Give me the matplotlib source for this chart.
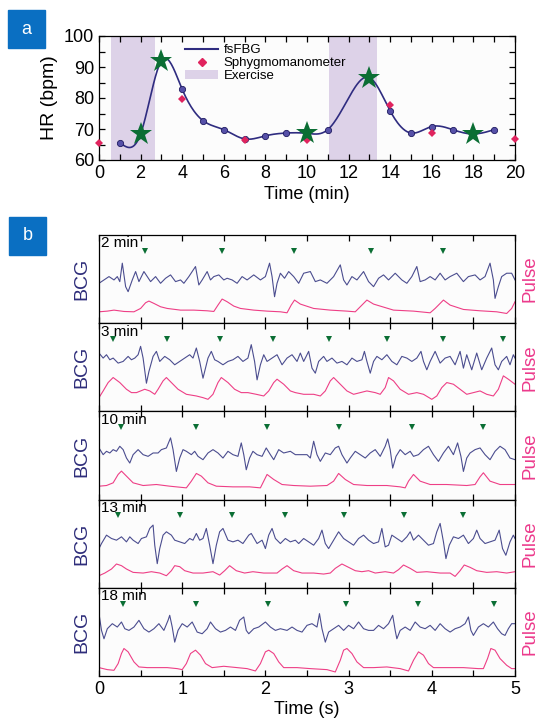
import matplotlib
matplotlib.use("Agg")
import matplotlib.pyplot as plt
import matplotlib.transforms as mtransforms
from matplotlib.lines import Line2D
from matplotlib.patches import Patch, Rectangle
from matplotlib.ticker import MultipleLocator
import numpy as np

plt.rcParams['font.family'] = ['Liberation Sans', 'DejaVu Sans']

# ---------------- panel a data ----------------
fsfbg_t = [1, 2, 3, 4, 5, 6, 7, 8, 9, 10, 11, 12, 13, 14, 15, 16, 17, 18, 19]
fsfbg_hr = [65.6, 68.4, 92.0, 82.8, 72.7, 69.8, 66.8, 67.8, 68.7, 68.6, 69.8, 80.0,
            86.6, 75.8, 68.7, 70.8, 69.8, 68.4, 69.8]
dot_t = [1, 4, 5, 6, 7, 8, 9, 11, 14, 15, 16, 17, 19]
star_t = [2, 3, 10, 13, 18]
sphyg_t = [0, 4, 7, 10, 14, 16, 20]
sphyg_hr = [65.5, 79.8, 66.6, 66.6, 77.8, 68.7, 66.7]
exercise = [(0.58, 2.69), (11.06, 13.35)]

# ---------------- panel b data ----------------
panel_names = ['2 min', '3 min', '10 min', '13 min', '18 min']

beats = [
    [0.55, 1.48, 2.34, 3.27, 4.13],
    [0.17, 0.82, 1.46, 2.09, 2.76, 3.46, 4.13, 4.86],
    [0.27, 1.16, 2.02, 2.88, 3.76, 4.62],
    [0.23, 0.97, 1.60, 2.24, 2.94, 3.67, 4.37],
    [0.29, 1.16, 2.03, 2.97, 3.84, 4.75],
]

bcg1_t = [0.00, 0.06, 0.12, 0.18, 0.22, 0.25, 0.28, 0.32, 0.35, 0.40, 0.44, 0.48, 0.54, 0.58,
          0.62, 0.68, 0.74, 0.80, 0.86, 0.92, 0.98, 1.02, 1.08, 1.16, 1.20, 1.24, 1.30, 1.34,
          1.38, 1.44, 1.50, 1.54, 1.60, 1.66, 1.72, 1.78, 1.86, 1.94, 2.00, 2.05, 2.08, 2.11,
          2.14, 2.18, 2.23, 2.28, 2.34, 2.40, 2.46, 2.54, 2.60, 2.66, 2.74, 2.82, 2.90, 2.94,
          2.98, 3.04, 3.10, 3.18, 3.24, 3.30, 3.36, 3.42, 3.48, 3.56, 3.64, 3.70, 3.76, 3.82,
          3.86, 3.92, 3.98, 4.04, 4.10, 4.16, 4.22, 4.30, 4.38, 4.44, 4.52, 4.58, 4.64, 4.70,
          4.74, 4.76, 4.80, 4.84, 4.90, 4.96, 5.00]
bcg1_v = [-1.0, 0.0, 1.0, 0.0, 1.0, -0.5, 5.0, -2.0, -3.5, 0.0, 2.5, -0.5, 2.5, 1.0,
          -0.5, 1.0, -1.0, 0.5, 1.5, -0.5, 0.0, -1.0, 1.0, 4.0, -1.5, 0.0, 2.5, 0.0,
          1.0, 1.5, 0.0, 0.5, 0.0, -1.0, 1.0, 0.0, 1.5, 0.0, 1.0, 5.0, 1.0, -5.0,
          -1.0, 2.0, 0.5, 2.5, 1.0, -1.0, 2.0, 2.5, -0.5, 0.0, -1.0, 1.0, 4.5, 0.0,
          -1.5, 1.0, 0.0, 2.5, -0.5, -2.0, 0.5, 1.5, 0.0, 2.0, 0.0, -1.0, 1.0, 4.0,
          -0.5, 0.0, 1.0, 0.0, 2.0, 0.0, 1.0, 2.0, -0.5, 1.0, 1.5, 0.0, 1.0, 5.0,
          0.0, -5.5, -2.0, 1.0, 2.0, 2.0, 0.0]
pul1_t = [0.00, 0.10, 0.18, 0.30, 0.42, 0.50, 0.56, 0.60, 0.66, 0.74, 0.82, 0.98, 1.14, 1.30,
          1.38, 1.43, 1.48, 1.54, 1.62, 1.70, 1.86, 2.02, 2.18, 2.26, 2.31, 2.35, 2.42, 2.58,
          2.78, 2.98, 3.08, 3.16, 3.22, 3.30, 3.54, 3.78, 3.98, 4.04, 4.14, 4.22, 4.38, 4.58,
          4.78, 4.90, 4.96, 5.00]
pul1_v = [0.5, 0.7, 1.0, 0.6, 0.5, 1.5, 3.2, 3.7, 3.0, 2.0, 1.5, 1.0, 1.0, 0.8,
          0.6, 2.5, 4.3, 3.5, 2.2, 1.5, 1.0, 0.7, 0.5, 0.2, 2.5, 4.0, 2.8, 1.5,
          1.0, 0.7, 0.5, 2.5, 4.0, 2.8, 1.0, 0.7, 0.2, 1.5, 4.0, 2.5, 1.2, 0.8,
          0.5, 0.0, 1.5, 3.5]

bcg2_t = [0.00, 0.05, 0.09, 0.13, 0.17, 0.23, 0.29, 0.35, 0.39, 0.43, 0.47, 0.50, 0.53, 0.57,
          0.60, 0.65, 0.69, 0.73, 0.79, 0.85, 0.91, 0.97, 1.03, 1.09, 1.13, 1.17, 1.21, 1.25,
          1.29, 1.31, 1.35, 1.39, 1.43, 1.49, 1.55, 1.61, 1.67, 1.73, 1.79, 1.83, 1.87, 1.90,
          1.94, 1.98, 2.02, 2.08, 2.14, 2.20, 2.26, 2.32, 2.38, 2.42, 2.46, 2.52, 2.56, 2.60,
          2.64, 2.70, 2.74, 2.80, 2.86, 2.92, 2.98, 3.04, 3.10, 3.16, 3.19, 3.22, 3.26, 3.30,
          3.34, 3.40, 3.46, 3.52, 3.58, 3.64, 3.70, 3.76, 3.82, 3.87, 3.90, 3.94, 3.98, 4.04,
          4.10, 4.16, 4.22, 4.28, 4.34, 4.38, 4.42, 4.48, 4.54, 4.60, 4.66, 4.72, 4.76, 4.80,
          4.84, 4.90, 4.94, 4.98, 5.00]
bcg2_v = [4.5, 3.0, 4.0, 2.5, 3.0, 1.5, 2.0, 3.5, 2.5, 3.0, 4.0, 6.5, 3.0, -4.5,
          -1.0, 3.5, 5.0, 2.0, 3.5, 2.5, 1.0, 2.0, 3.0, 4.0, 3.0, 6.0, 2.0, -3.0,
          1.0, 3.0, 5.0, 2.5, 2.0, 1.0, 2.0, 2.5, 3.5, 2.0, 3.0, 7.0, 2.0, -3.5,
          1.0, 4.0, 2.0, 3.0, 4.0, 1.0, 3.0, 4.0, 2.0, 4.5, 2.0, 5.0, 0.0, -1.5,
          2.0, 3.5, 2.0, 3.0, 1.5, 2.0, 1.0, 3.0, 2.0, 2.5, 5.0, 2.0, -1.5, 2.0,
          3.5, 2.5, 4.0, 2.0, 1.0, 3.5, 3.0, 2.0, 3.0, 5.0, 2.0, -0.5, 2.0, 5.0,
          1.5, 3.0, 3.5, 1.0, 5.0, 0.0, 4.0, -0.5, 4.5, -0.5, 3.0, 6.0, 1.0, -0.5,
          2.0, 3.5, 1.0, 4.0, 3.0]
pul2_t = [0.00, 0.05, 0.11, 0.17, 0.25, 0.33, 0.39, 0.45, 0.55, 0.61, 0.67, 0.71, 0.77, 0.81,
          0.87, 0.95, 1.05, 1.17, 1.25, 1.31, 1.37, 1.43, 1.47, 1.55, 1.63, 1.71, 1.79, 1.89,
          1.98, 2.04, 2.10, 2.14, 2.22, 2.30, 2.36, 2.46, 2.58, 2.66, 2.72, 2.78, 2.82, 2.90,
          2.98, 3.06, 3.14, 3.22, 3.32, 3.38, 3.44, 3.48, 3.54, 3.62, 3.72, 3.82, 3.90, 4.00,
          4.06, 4.12, 4.18, 4.26, 4.34, 4.42, 4.50, 4.58, 4.66, 4.74, 4.80, 4.86, 4.92, 5.00]
pul2_v = [1.2, 3.2, 5.7, 7.2, 5.7, 3.7, 2.7, 2.7, 3.7, 3.2, 2.2, 3.7, 6.2, 7.2,
          5.7, 3.7, 2.2, 1.7, 1.2, 0.7, 2.2, 5.7, 7.2, 5.7, 3.7, 2.7, 2.7, 2.2,
          1.7, 3.2, 5.7, 6.7, 5.2, 3.2, 2.7, 2.2, 2.2, 1.7, 3.2, 6.2, 7.2, 5.2,
          3.2, 2.2, 2.7, 3.2, 2.7, 2.2, 4.2, 7.2, 6.2, 3.7, 2.2, 2.7, 2.2, 0.7,
          1.7, 4.2, 5.7, 5.2, 3.7, 2.2, 2.7, 3.2, 2.2, 1.7, 3.7, 7.7, 6.7, 5.2]

bcg3_t = [0.00, 0.05, 0.09, 0.13, 0.17, 0.21, 0.25, 0.29, 0.33, 0.37, 0.41, 0.47, 0.53, 0.59,
          0.65, 0.71, 0.75, 0.81, 0.86, 0.89, 0.93, 0.97, 1.01, 1.05, 1.11, 1.15, 1.19, 1.25,
          1.31, 1.37, 1.43, 1.49, 1.55, 1.61, 1.67, 1.71, 1.74, 1.77, 1.81, 1.85, 1.90, 1.96,
          2.01, 2.06, 2.10, 2.16, 2.22, 2.30, 2.36, 2.42, 2.50, 2.54, 2.58, 2.62, 2.66, 2.72,
          2.78, 2.84, 2.88, 2.92, 2.98, 3.02, 3.08, 3.14, 3.20, 3.26, 3.32, 3.38, 3.44, 3.47,
          3.50, 3.53, 3.57, 3.62, 3.68, 3.74, 3.78, 3.84, 3.90, 3.96, 4.02, 4.08, 4.14, 4.20,
          4.26, 4.31, 4.35, 4.38, 4.42, 4.46, 4.52, 4.58, 4.64, 4.70, 4.76, 4.82, 4.88, 4.94,
          5.00]
bcg3_v = [2.5, 0.5, 1.5, 1.0, 2.0, 1.5, 3.0, 2.0, -0.5, -2.0, 0.5, 2.0, 0.5, 0.0,
          1.0, 1.0, 2.0, 2.5, 5.5, 2.0, -4.5, -0.5, 2.0, 1.5, 0.5, 1.5, 0.0, -1.0,
          1.0, 2.0, 1.0, -0.5, 1.5, 0.5, 0.0, 4.0, 0.5, -4.0, -0.5, 1.5, 0.5, 0.0,
          2.5, 0.5, -1.0, 2.0, 1.0, 1.5, 0.5, 0.5, 0.5, -0.5, 4.5, 0.5, -1.5, 1.0,
          0.5, 2.5, 3.0, 0.5, -2.0, -0.5, 1.5, 0.5, -0.5, 1.0, 2.0, 0.0, 3.0, 5.2,
          2.0, -3.5, 0.0, 2.0, 0.5, 1.5, 0.0, 0.5, 2.0, 3.0, 0.5, -1.5, 1.0, 3.0,
          0.5, 4.0, 0.0, -4.5, -0.5, 1.0, 2.0, 2.5, 0.5, -1.0, 1.5, 3.0, 2.0, -0.5,
          -1.0]
pul3_t = [0.00, 0.09, 0.17, 0.23, 0.27, 0.33, 0.41, 0.53, 0.69, 0.85, 1.05, 1.11, 1.17, 1.23,
          1.31, 1.41, 1.61, 1.81, 1.94, 1.98, 2.02, 2.10, 2.20, 2.34, 2.54, 2.74, 2.82, 2.88,
          2.96, 3.06, 3.22, 3.46, 3.62, 3.68, 3.72, 3.78, 3.86, 3.98, 4.18, 4.42, 4.52, 4.58,
          4.62, 4.70, 4.82, 5.00]
pul3_v = [1.1, 1.3, 2.1, 4.6, 5.6, 4.1, 2.1, 1.3, 1.6, 1.1, 0.6, 2.6, 4.9, 4.1,
          2.1, 1.1, 0.9, 0.9, 0.6, 2.6, 4.6, 3.1, 1.6, 1.3, 1.1, 1.3, 2.6, 4.9,
          3.1, 1.6, 1.3, 1.3, 0.9, 0.6, 2.6, 4.6, 2.6, 1.6, 1.6, 1.3, 1.6, 3.9,
          5.1, 2.6, 1.6, 1.6]

bcg4_t = [0.00, 0.03, 0.09, 0.15, 0.21, 0.27, 0.33, 0.37, 0.41, 0.47, 0.51, 0.57, 0.61, 0.65,
          0.67, 0.70, 0.73, 0.77, 0.81, 0.87, 0.91, 0.97, 1.03, 1.09, 1.13, 1.17, 1.21, 1.25,
          1.29, 1.33, 1.37, 1.41, 1.45, 1.49, 1.55, 1.61, 1.67, 1.73, 1.80, 1.83, 1.90, 1.96,
          2.00, 2.04, 2.08, 2.12, 2.18, 2.24, 2.30, 2.36, 2.40, 2.46, 2.52, 2.58, 2.64, 2.68,
          2.72, 2.76, 2.82, 2.88, 2.94, 3.00, 3.06, 3.12, 3.18, 3.24, 3.30, 3.36, 3.40, 3.44,
          3.48, 3.52, 3.58, 3.64, 3.70, 3.74, 3.78, 3.84, 3.90, 3.96, 4.02, 4.06, 4.10, 4.14,
          4.17, 4.21, 4.26, 4.32, 4.38, 4.44, 4.50, 4.54, 4.58, 4.64, 4.70, 4.76, 4.81, 4.85,
          4.89, 4.94, 4.98, 5.00]
bcg4_v = [-1.2, 0.3, 2.8, 1.8, 1.3, 2.3, 0.8, 2.3, 1.3, 0.3, 1.8, 2.3, 4.8, 5.8,
          -0.2, -5.7, -1.2, 2.8, 3.8, 2.8, 1.3, 0.8, 0.3, 1.8, 1.3, 3.3, 1.3, 1.8,
          4.8, -0.2, -5.7, -0.2, 3.8, 4.8, 1.3, 0.8, 1.3, 0.3, 2.8, 3.3, 0.3, 1.3,
          -1.2, 2.8, 4.8, 1.8, 0.3, 1.8, 0.8, 1.3, 0.3, 1.8, 0.8, -0.2, 1.8, 4.3,
          0.3, -1.2, 1.3, 3.8, 1.8, 0.8, -0.2, 1.8, 2.8, 1.3, 0.3, 0.8, 4.8, -0.7,
          -0.2, 2.8, 1.8, 0.8, 2.3, 3.8, 1.3, 2.8, 1.3, -0.2, 0.3, 3.8, 6.3, 0.8,
          -4.2, -0.2, 2.3, 1.8, 2.8, 0.3, 1.8, 4.3, 1.8, 0.3, 0.8, 1.3, 4.3, -1.2,
          -3.2, 0.8, 2.8, 1.8]
pul4_t = [0.00, 0.07, 0.15, 0.21, 0.27, 0.33, 0.41, 0.53, 0.63, 0.73, 0.81, 0.87, 0.91, 0.97,
          1.03, 1.13, 1.25, 1.37, 1.45, 1.51, 1.57, 1.65, 1.75, 1.85, 1.98, 2.14, 2.20, 2.26,
          2.34, 2.44, 2.58, 2.70, 2.78, 2.84, 2.92, 3.00, 3.08, 3.16, 3.24, 3.32, 3.44, 3.54,
          3.60, 3.66, 3.74, 3.82, 3.94, 4.10, 4.22, 4.28, 4.34, 4.39, 4.46, 4.54, 4.66, 4.78,
          4.90, 5.00]
pul4_v = [0.7, 1.5, 2.7, 4.2, 3.7, 2.7, 1.7, 1.5, 1.9, 1.5, 0.7, 2.2, 3.7, 3.4,
          2.2, 1.5, 1.5, 1.9, 0.9, 2.2, 3.7, 2.2, 1.5, 1.9, 1.5, 1.5, 2.7, 3.7,
          2.2, 1.5, 1.5, 1.2, 1.5, 2.9, 4.2, 3.2, 2.2, 1.9, 2.2, 1.5, 1.9, 1.5,
          2.5, 3.9, 2.9, 1.7, 1.9, 1.5, 1.5, 0.5, 2.2, 3.9, 3.2, 2.2, 1.7, 1.9,
          1.5, 1.9]

bcg5_t = [0.00, 0.03, 0.06, 0.10, 0.16, 0.22, 0.27, 0.31, 0.36, 0.42, 0.48, 0.54, 0.60, 0.66,
          0.72, 0.78, 0.83, 0.85, 0.88, 0.91, 0.95, 1.00, 1.06, 1.12, 1.18, 1.24, 1.30, 1.34,
          1.40, 1.46, 1.52, 1.58, 1.64, 1.69, 1.74, 1.77, 1.80, 1.86, 1.92, 2.00, 2.06, 2.12,
          2.18, 2.26, 2.32, 2.38, 2.44, 2.50, 2.56, 2.62, 2.65, 2.68, 2.72, 2.76, 2.82, 2.88,
          2.94, 3.00, 3.06, 3.12, 3.18, 3.24, 3.30, 3.36, 3.42, 3.48, 3.53, 3.56, 3.58, 3.62,
          3.68, 3.74, 3.80, 3.86, 3.92, 3.98, 4.04, 4.10, 4.16, 4.22, 4.28, 4.34, 4.40, 4.44,
          4.47, 4.50, 4.56, 4.62, 4.68, 4.74, 4.79, 4.84, 4.88, 4.92, 4.96, 5.00]
bcg5_v = [5.7, 0.7, -1.8, 1.2, 2.7, 1.7, 3.2, 1.2, 0.7, 1.7, 3.7, 1.2, 0.2, 1.2,
          2.7, 0.7, 3.7, 5.2, 1.7, -2.8, 0.7, 2.7, 1.7, 3.2, 0.2, -0.3, 1.2, 3.2,
          1.2, 0.2, 0.7, 1.7, 0.7, 3.7, 4.7, 0.7, -0.3, 1.2, 1.7, 3.2, 1.7, 0.7,
          1.2, 0.7, 1.7, 0.7, 0.2, 2.2, 2.7, 1.7, 5.7, 1.2, -2.8, 0.2, 1.2, 2.2,
          0.7, 2.2, 1.2, 3.2, 1.2, 0.7, 0.7, 2.2, 1.2, 2.7, 5.2, 0.7, -1.8, 0.7,
          1.7, 0.7, 3.2, 1.7, 1.2, 2.2, 0.7, 2.7, 1.2, 0.2, 1.2, 1.7, 2.7, 4.7,
          0.7, -0.8, 1.7, 2.7, 1.7, 3.2, 1.2, -0.3, -0.8, 1.2, 2.7, 2.7]
pul5_t = [0.00, 0.10, 0.18, 0.23, 0.27, 0.30, 0.35, 0.42, 0.48, 0.58, 0.70, 0.82, 0.94, 1.00,
          1.05, 1.10, 1.16, 1.22, 1.28, 1.36, 1.50, 1.66, 1.78, 1.88, 1.94, 2.00, 2.04, 2.10,
          2.16, 2.22, 2.38, 2.54, 2.74, 2.84, 2.90, 2.94, 2.98, 3.04, 3.10, 3.18, 3.30, 3.46,
          3.62, 3.72, 3.78, 3.84, 3.90, 3.96, 4.02, 4.18, 4.38, 4.56, 4.62, 4.67, 4.71, 4.76,
          4.82, 4.90, 4.96, 5.00]
pul5_v = [-0.4, -1.0, -1.2, 0.8, 3.8, 5.3, 4.3, 1.3, -0.2, -0.4, -0.4, -0.4, -0.7, -1.0,
          0.8, 3.8, 4.8, 3.3, 0.8, -0.4, 0.0, -0.4, -0.7, -1.4, 0.8, 4.3, 4.8, 3.8,
          1.3, -0.4, -0.4, -0.7, -1.0, -1.7, 1.8, 4.8, 5.3, 3.8, 1.3, -0.4, -0.4, -0.2,
          -0.7, -1.4, 1.8, 4.3, 3.3, 0.8, -0.4, -0.4, -0.4, -0.7, -0.7, 2.3, 5.3, 4.8,
          2.3, 0.3, -0.7, -0.7]

bcg_t = [bcg1_t, bcg2_t, bcg3_t, bcg4_t, bcg5_t]
bcg_v = [bcg1_v, bcg2_v, bcg3_v, bcg4_v, bcg5_v]
pul_t = [pul1_t, pul2_t, pul3_t, pul4_t, pul5_t]
pul_v = [pul1_v, pul2_v, pul3_v, pul4_v, pul5_v]


def natural_spline(x, y, xs):
    # natural cubic spline, used only to draw the smoothed fsFBG line
    x = np.asarray(x, float)
    y = np.asarray(y, float)
    n = len(x)
    h = np.diff(x)
    A = np.zeros((n, n))
    b = np.zeros(n)
    A[0, 0] = A[-1, -1] = 1
    for i in range(1, n - 1):
        A[i, i - 1] = h[i - 1]
        A[i, i] = 2 * (h[i - 1] + h[i])
        A[i, i + 1] = h[i]
        b[i] = 3 * ((y[i + 1] - y[i]) / h[i] - (y[i] - y[i - 1]) / h[i - 1])
    c = np.linalg.solve(A, b)
    idx = np.clip(np.searchsorted(x, xs) - 1, 0, n - 2)
    dx = xs - x[idx]
    bb = (y[idx + 1] - y[idx]) / h[idx] - h[idx] * (2 * c[idx] + c[idx + 1]) / 3
    dd = (c[idx + 1] - c[idx]) / (3 * h[idx])
    return y[idx] + bb * dx + c[idx] * dx ** 2 + dd * dx ** 3


navy = '#2f2c80'
dotc = '#5650a8'
red = '#e0245e'
green = '#0b6e34'
shade = '#ddd2e8'
bcg_col = '#4b4d8f'
pulse_col = '#ee3f86'
boxc = '#0a6fc2'

W, H = 540, 724
fig = plt.figure(figsize=(W / 100, H / 100), dpi=100)

# ---------------- panel a ----------------
ax = fig.add_axes([99 / W, 1 - 160 / H, 416 / W, 124 / H])
ax.set_facecolor('#fcfcfc')
for x0, x1 in exercise:
    ax.axvspan(x0, x1, color=shade, lw=0, zorder=0)
xs = np.linspace(fsfbg_t[0], fsfbg_t[-1], 400)
ax.plot(xs, natural_spline(fsfbg_t, fsfbg_hr, xs), color=navy, lw=1.2, zorder=2)
hr_map = dict(zip(fsfbg_t, fsfbg_hr))
ax.plot(dot_t, [hr_map[t] for t in dot_t], 'o', ms=4.5, mfc=dotc, mec='#1e1a60', mew=0.6, zorder=3)
ax.plot(sphyg_t, sphyg_hr, 'D', ms=4.5, color=red, mew=0, zorder=4, clip_on=False)
ax.plot(star_t, [hr_map[t] for t in star_t], '*', ms=17, color=green, mew=0, zorder=5)
ax.set_xlim(0, 20)
ax.set_ylim(60, 100)
ax.xaxis.set_major_locator(MultipleLocator(2))
ax.xaxis.set_minor_locator(MultipleLocator(1))
ax.yaxis.set_major_locator(MultipleLocator(10))
ax.yaxis.set_minor_locator(MultipleLocator(5))
ax.tick_params(which='both', direction='in', top=True, right=True, labelsize=13, width=0.9,
               length=4)
ax.set_xlabel('Time (min)', fontsize=13, labelpad=3)
ax.set_ylabel('HR (bpm)', fontsize=14, labelpad=4)
for s in ax.spines.values():
    s.set_linewidth(0.9)
handles = [Line2D([], [], color=navy, lw=1.5),
           Line2D([], [], ls='', marker='D', ms=4.5, color=red),
           Patch(facecolor=shade, edgecolor='none')]
ax.legend(handles, ['fsFBG', 'Sphygmomanometer', 'Exercise'], loc='upper left',
          bbox_to_anchor=(0.185, 1.01), frameon=False, fontsize=9.5, handlelength=2.5,
          handletextpad=0.4, labelspacing=0.05, borderpad=0.2)

# ---------------- panel b ----------------
top, bottom = 235, 676
ph = (bottom - top) / 5
axes_b = []
for i in range(5):
    y0 = top + ph * (i + 1)
    bx = fig.add_axes([99 / W, 1 - y0 / H, 416 / W, ph / H])
    axes_b.append(bx)
    bx.set_facecolor('#fcfcfc')
    bx.plot(bcg_t[i], np.array(bcg_v[i]) + 10, color=bcg_col, lw=0.8, solid_joinstyle='round')
    bx.plot(pul_t[i], pul_v[i], color=pulse_col, lw=0.8, solid_joinstyle='round')
    trans = mtransforms.blended_transform_factory(bx.transData, bx.transAxes)
    bx.plot(beats[i], [0.82] * len(beats[i]), 'v', ms=4, color=green, mew=0, transform=trans)
    bx.set_xlim(0, 5)
    bx.set_ylim(-2.9, 23.4)
    bx.set_yticks([])
    bx.xaxis.set_major_locator(MultipleLocator(1))
    bx.xaxis.set_minor_locator(MultipleLocator(0.5))
    bx.tick_params(which='both', direction='in', top=True, bottom=True, length=4, width=0.9,
                   labelsize=13)
    if i < 4:
        bx.tick_params(labelbottom=False)
    for s in bx.spines.values():
        s.set_linewidth(0.9)
    bx.text(0.004, 0.985, panel_names[i], transform=bx.transAxes, ha='left', va='top',
            fontsize=11)
    bx.set_ylabel('BCG', fontsize=14, color='#2e2d7a', labelpad=6)
    bx.text(1.035, 0.5, 'Pulse', transform=bx.transAxes, rotation=90, ha='center',
            va='center', fontsize=13.5, color='#ec3a8c')
axes_b[-1].set_xlabel('Time (s)', fontsize=13, labelpad=2)

# panel letters
for lab, (x0, y0) in [('a', (8, 10)), ('b', (9, 217))]:
    fig.patches.append(Rectangle((x0 / W, 1 - (y0 + 38) / H), 37 / W, 38 / H,
                                 transform=fig.transFigure, color=boxc, zorder=10))
    fig.text((x0 + 18.5) / W, 1 - (y0 + 19) / H, lab, color='white', fontsize=13,
             ha='center', va='center', zorder=11)

fig.savefig('out.png', dpi=100)
